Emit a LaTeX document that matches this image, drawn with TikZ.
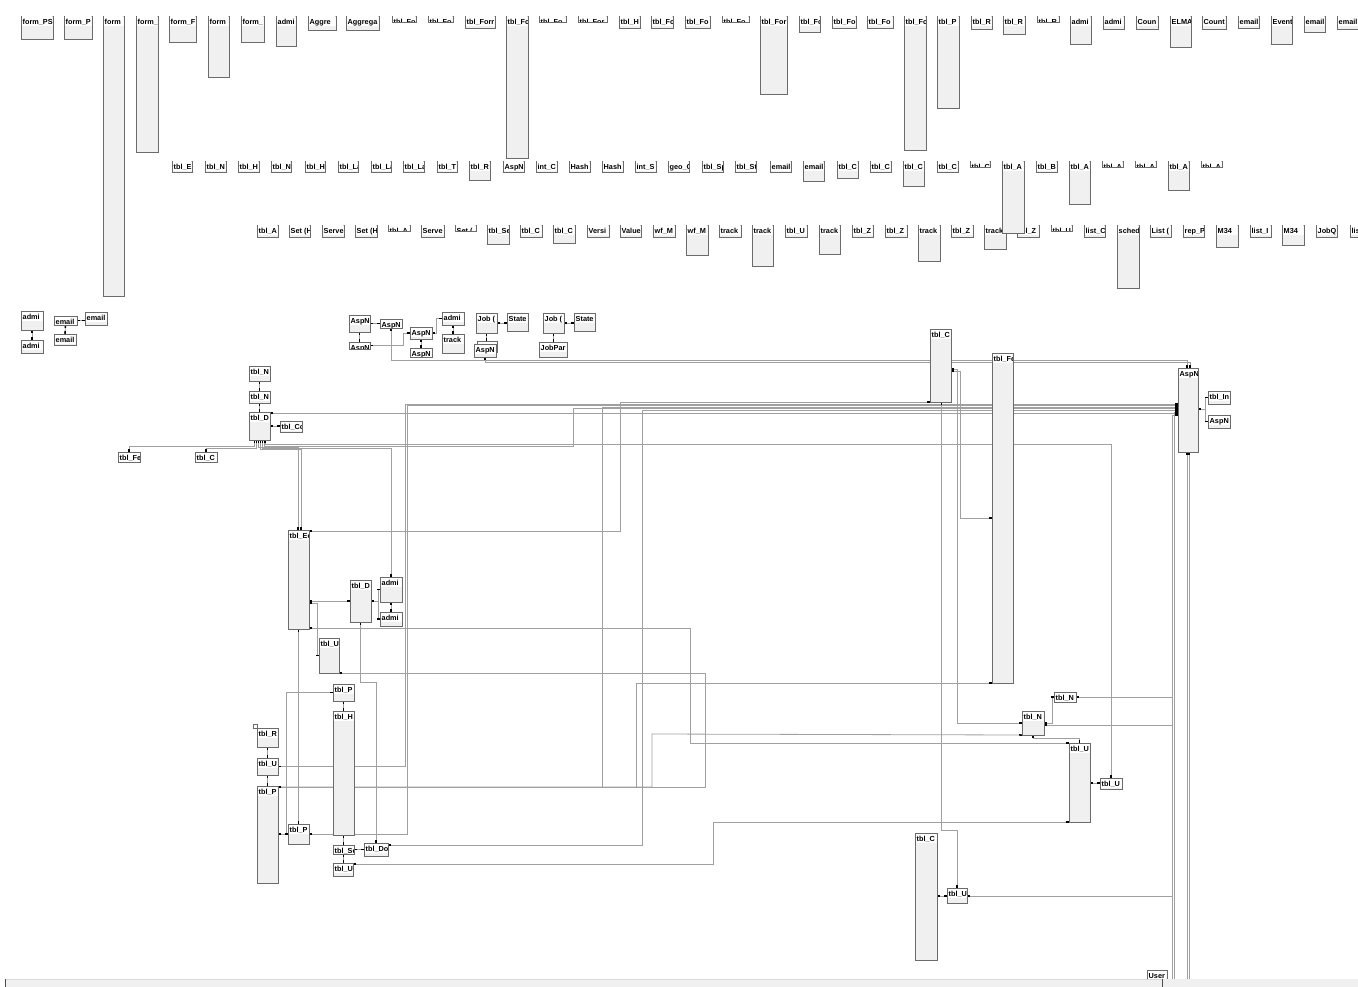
\documentclass[tikz,border=0pt]{standalone}
\usepackage{fontspec}
\setmainfont{Liberation Sans}
\usetikzlibrary{arrows.meta}
\definecolor{boxc}{HTML}{6B6B6B}
\definecolor{boxf}{HTML}{F0F0F0}
\definecolor{relc}{HTML}{A0A0A0}
\pgfdeclarelayer{bg}
\pgfsetlayers{bg,main}
\tikzset{
  Tk/.tip={Rectangle[length=3pt,width=1.5pt,color=black]},
  tbox/.style={draw=boxc, fill=boxf, line width=0.9pt, inner sep=0pt, outer sep=0pt},
  lbl/.style={font=\fontsize{7.3}{8}\selectfont\bfseries, inner sep=0pt, text=black},
  rel/.style={draw=relc, line width=0.8pt, Tk-Tk},
  relS/.style={draw=relc, line width=0.8pt, Tk-},
  relE/.style={draw=relc, line width=0.8pt, -Tk},
}
\newcommand\tb[6]{%
  \node[tbox, minimum width={(#4)-(#2)}, minimum height={(#5)-(#3)}, anchor=north west] (#1) at (#2,#3) {};
  \begin{scope}
    \clip ([shift={(0.5,0.5)}]#1.north west) rectangle ([shift={(-0.5,-0.5)}]#1.south east);
    \fill[white] ([shift={(0.5,0.5)}]#1.north west) rectangle ([shift={(-0.5,10)}]#1.north east);
    \node[lbl, anchor=base west] at ([shift={(1.5,8.5)}]#1.north west) {#6};
  \end{scope}}
\begin{document}
\begin{tikzpicture}[x=1pt,y=-1pt]
\useasboundingbox (0,0) rectangle (1358,987);
% ---------------- row 1
\tb{a1}{21}{16}{53}{39}{form\_PS}
\tb{a2}{64}{16}{92}{39}{form\_P}
\tb{a3}{103}{16}{124}{296}{form}
\tb{a4}{136}{16}{158}{152}{form\_}
\tb{a5}{169}{16}{196}{42}{form\_F}
\tb{a6}{208}{16}{229}{77}{form}
\tb{a7}{241}{16}{264}{42}{form\_}
\tb{a8}{276}{16}{296}{46}{admi}
\tb{a9}{308}{16}{336}{30}{Aggre}
\tb{a10}{346}{16}{379}{30}{Aggrega}
\tb{a11}{392}{16}{416}{22}{tbl\_Fo}
\tb{a12}{428}{16}{453}{22}{tbl\_Fo}
\tb{a13}{465}{16}{495}{28}{tbl\_Forr}
\tb{a14}{506}{16}{528}{158}{tbl\_Fc}
\tb{a15}{539}{16}{566}{22}{tbl\_Fo}
\tb{a16}{578}{16}{607}{22}{tbl\_For}
\tb{a17}{619}{16}{640}{28}{tbl\_H}
\tb{a18}{651}{16}{673}{28}{tbl\_Fc}
\tb{a19}{685}{16}{710}{28}{tbl\_Fo}
\tb{a20}{722}{16}{749}{22}{tbl\_Fo}
\tb{a21}{760}{16}{787}{94}{tbl\_For}
\tb{a22}{799}{16}{820}{32}{tbl\_Fc}
\tb{a23}{832}{16}{856}{28}{tbl\_Fo}
\tb{a24}{867}{16}{893}{28}{tbl\_Fo}
\tb{a25}{904}{16}{926}{150}{tbl\_Fc}
\tb{a26}{937}{16}{959}{108}{tbl\_P}
\tb{a27}{971}{16}{992}{29}{tbl\_R}
\tb{a28}{1003}{16}{1025}{34}{tbl\_R}
\tb{a29}{1037}{16}{1059}{22}{tbl\_R}
\tb{a30}{1070}{16}{1091}{44}{admi}
\tb{a31}{1103}{16}{1124}{29}{admi}
\tb{a32}{1136}{16}{1158}{29}{Coun}
\tb{a33}{1170}{16}{1191}{47}{ELMA}
\tb{a34}{1202}{16}{1226}{29}{Count}
\tb{a35}{1238}{16}{1259}{28}{email}
\tb{a36}{1271}{16}{1292}{44}{Event}
\tb{a37}{1304}{16}{1325}{32}{email}
\tb{a38}{1337}{16}{1362}{29}{email}
% ---------------- row 3
\tb{c1}{257}{225}{278}{237}{tbl\_A}
\tb{c2}{289}{225}{310}{237}{Set (H}
\tb{c3}{322}{225}{344}{237}{Serve}
\tb{c4}{355}{225}{377}{237}{Set (H}
\tb{c5}{388}{225}{410}{231}{tbl\_A}
\tb{c6}{421}{225}{444}{237}{Serve}
\tb{c7}{455}{225}{476}{231}{Set (}
\tb{c8}{487}{225}{509}{244}{tbl\_Se}
\tb{c9}{520}{225}{542}{237}{tbl\_C}
\tb{c10}{553}{225}{575}{243}{tbl\_C}
\tb{c11}{587}{225}{609}{237}{Versi}
\tb{c12}{620}{225}{641}{237}{Value}
\tb{c13}{653}{225}{675}{237}{wf\_M}
\tb{c14}{686}{225}{708}{255}{wf\_M}
\tb{c15}{719}{225}{741}{237}{track}
\tb{c16}{752}{225}{773}{266}{track}
\tb{c17}{785}{225}{807}{237}{tbl\_U}
\tb{c18}{819}{225}{840}{254}{track}
\tb{c19}{852}{225}{873}{237}{tbl\_Z}
\tb{c20}{885}{225}{907}{237}{tbl\_Z}
\tb{c21}{918}{225}{940}{261}{track}
\tb{c22}{951}{225}{973}{237}{tbl\_Z}
\tb{c23}{984}{225}{1006}{249}{track}
\tb{c24}{1017}{225}{1039}{237}{tbl\_Z}
\tb{c25}{1051}{225}{1072}{231}{tbl\_U}
\tb{c26}{1084}{225}{1105}{237}{list\_C}
\tb{c27}{1117}{225}{1139}{288}{sched}
\tb{c28}{1150}{225}{1171}{237}{List (}
\tb{c29}{1183}{225}{1204}{237}{rep\_P}
\tb{c30}{1216}{225}{1238}{247}{M34}
\tb{c31}{1250}{225}{1271}{237}{list\_I}
\tb{c32}{1282}{225}{1304}{245}{M34}
\tb{c33}{1316}{225}{1337}{237}{JobQ}
\tb{c34}{1350}{225}{1372}{237}{lis}
% ---------------- row 2
\tb{b1}{172}{161}{192}{172}{tbl\_Er}
\tb{b2}{205}{161}{226}{172}{tbl\_N}
\tb{b3}{238}{161}{259}{172}{tbl\_H}
\tb{b4}{271}{161}{291}{172}{tbl\_N}
\tb{b5}{305}{161}{325}{172}{tbl\_H}
\tb{b6}{338}{161}{358}{172}{tbl\_La}
\tb{b7}{371}{161}{391}{172}{tbl\_La}
\tb{b8}{403}{161}{424}{172}{tbl\_La}
\tb{b9}{437}{161}{457}{172}{tbl\_T}
\tb{b10}{469}{161}{490}{180}{tbl\_R}
\tb{b11}{503}{161}{524}{172}{AspN}
\tb{b12}{536}{161}{557}{172}{int\_C}
\tb{b13}{569}{161}{590}{172}{Hash}
\tb{b14}{602}{161}{623}{172}{Hash}
\tb{b15}{635}{161}{656}{172}{int\_S}
\tb{b16}{668}{161}{689}{172}{geo\_C}
\tb{b17}{702}{161}{723}{172}{tbl\_Sp}
\tb{b18}{735}{161}{756}{172}{tbl\_St}
\tb{b19}{770}{161}{791}{172}{email}
\tb{b20}{803}{161}{824}{181}{email}
\tb{b21}{837}{161}{858}{178}{tbl\_C}
\tb{b22}{870}{161}{891}{172}{tbl\_C}
\tb{b23}{903}{161}{924}{186}{tbl\_C}
\tb{b24}{937}{161}{958}{172}{tbl\_C}
\tb{b25}{970}{161}{990}{167}{tbl\_C}
\tb{b26}{1002}{161}{1024}{233}{tbl\_A}
\tb{b27}{1036}{161}{1057}{172}{tbl\_B}
\tb{b28}{1069}{161}{1090}{204}{tbl\_A}
\tb{b29}{1102}{161}{1123}{167}{tbl\_A}
\tb{b30}{1135}{161}{1156}{167}{tbl\_A}
\tb{b31}{1168}{161}{1189}{190}{tbl\_A}
\tb{b32}{1201}{161}{1222}{167}{tbl\_A}
% ---------------- lower left clusters
\tb{adA}{21}{311}{43}{330}{admi}
\tb{adB}{21}{340}{43}{353}{admi}
\tb{emA}{54}{316}{77}{325}{email}
\tb{emB}{85}{312}{107}{325}{email}
\tb{emC}{54}{334}{76}{345}{email}
\tb{asA}{349}{315}{370}{332}{AspN}
\tb{asB}{380}{319}{402}{328}{AspN}
\tb{asC}{349}{342}{370}{349}{AspN}
\tb{asD}{410}{327}{432}{339}{AspN}
\tb{asE}{410}{348}{432}{357}{AspN}
\tb{adJ}{442}{312}{464}{325}{admi}
\tb{trJ}{442}{334}{464}{353}{track}
\tb{jbA}{476}{313}{497}{333}{Job (}
\tb{stA}{507}{313}{528}{331}{State}
\tb{asF2}{477}{341}{497}{352}{}
\tb{asF}{474}{344}{496}{357}{AspN}
\tb{jbB}{543}{313}{564}{333}{Job (}
\tb{stB}{574}{313}{595}{331}{State}
\tb{jp}{539}{342}{567}{357}{JobPar}
\tb{nA}{249}{366}{270}{381}{tbl\_N}
\tb{nB}{249}{391}{270}{403}{tbl\_N}
\tb{tD}{249}{412}{270}{440}{tbl\_D}
\tb{tCo}{280}{421}{302}{432}{tbl\_Co}
\tb{fe1}{118}{452}{140}{462}{tbl\_Fe}
\tb{cc1}{195}{452}{217}{462}{tbl\_C}
\tb{tE}{288}{530}{309}{629}{tbl\_Ec}
\tb{tD2}{350}{580}{371}{622}{tbl\_D}
\tb{adD}{380}{577}{402}{602}{admi}
\tb{adE}{380}{612}{402}{626}{admi}
\tb{uA}{319}{638}{339}{673}{tbl\_U}
\tb{pS}{333}{684}{354}{701}{tbl\_P}
\tb{tH}{333}{711}{354}{835}{tbl\_H}
\tb{tR}{257}{728}{278}{747}{tbl\_R}
\tb{uL}{257}{758}{278}{775}{tbl\_U}
\tb{pT}{257}{786}{278}{883}{tbl\_P}
\tb{p2}{288}{824}{309}{844}{tbl\_P}
\tb{sc}{333}{845}{354}{854}{tbl\_Sc}
\tb{tDo}{364}{843}{388}{856}{tbl\_Do}
\tb{u3}{333}{863}{353}{876}{tbl\_U}
\draw[draw=boxc, fill=white, line width=0.6pt] (253,724) rectangle (257,728);
% ---------------- lower right
\tb{tC}{930}{329}{951}{402}{tbl\_C}
\tb{fe2}{992}{353}{1013}{683}{tbl\_Fe}
\tb{aspBig}{1178}{368}{1198}{452}{AspN}
\tb{tIn}{1208}{391}{1230}{404}{tbl\_In}
\tb{asS}{1208}{415}{1230}{428}{AspN}
\tb{n2}{1054}{692}{1076}{702}{tbl\_N}
\tb{nR}{1022}{711}{1044}{735}{tbl\_N}
\tb{uB}{1069}{743}{1090}{822}{tbl\_U}
\tb{uS}{1100}{778}{1122}{789}{tbl\_U}
\tb{c2b}{915}{833}{937}{960}{tbl\_C}
\tb{u4}{947}{888}{967}{903}{tbl\_U}
\tb{usr}{1147}{970}{1167}{990}{User}
% ---------------- connectors
\begin{pgfonlayer}{bg}
\draw[rel] (adA.south) -- (adB.north);
\draw[rel] (emA.east) -- (emA.east -| emB.west);
\draw[rel] (emA.south) -- (emC.north);
\draw[rel] (asA.east) -- (asA.east -| asB.west);
\draw[rel] (asA.south) -- (asC.north);
\draw[rel] (asC.east) -- (403,345.5) |- (asD.west);
\draw[rel] (asD.east) -- (436,333) |- (adJ.west);
\draw[rel] (adJ.south) -- (trJ.north);
\draw[rel] (asD.south) -- (asE.north);
\draw[rel] (asB.south) |- (1187,360) -- ([xshift=-1pt]aspBig.north);
\draw[rel] (asF.south) |- (1190,362) -- ([xshift=2pt]aspBig.north);
\draw[rel] (jbA.east) -- (jbA.east -| stA.west);
\draw[rel] (jbA.south) -- (jbA.south |- asF2.north);
\draw[rel] (jbB.east) -- (jbB.east -| stB.west);
\draw[rel] (jbB.south) -- (jbB.south |- jp.north);
\draw[rel] (nA.south) -- (nB.north);
\draw[rel] (nB.south) -- (tD.north);
\draw[rel] (tD.east) -- (tD.east -| tCo.west);
\draw[rel] ([xshift=-5pt]tD.south) |- (129,446) -- (fe1.north);
\draw[rel] ([xshift=-3pt]tD.south) |- (206,448) -- (cc1.north);
\draw[rel] ([xshift=-1pt]tD.south) |- (298,447) -- (tE.north -| 298,0);
\draw[rel] ([xshift=1pt]tD.south) |- (301,449) -- (tE.north -| 301,0);
\draw[rel] ([xshift=3pt]tD.south) |- (391,448) -- (adD.north);
\draw[rel] ([xshift=5pt]tD.south) |- (573,446) |- (aspBig.west |- 0,408.5);
\draw[rel] ([xshift=6pt]tD.south) |- (1111,444) -- (uS.north);
\draw[rel] (tD.east |- 0,413) -- (aspBig.west |- 0,413);
\draw[rel] (tE.east |- 0,531) -- (620,531) |- (tC.south west);
\draw[rel] (tE.east |- 0,628) -| (690,743) -- (uB.north west);
\draw[rel] (tD2.west) -- (tD2.west -| tE.east);
\draw[rel] (tE.east |- 0,603) -- (317,603) |- (uA.west);
\draw[rel] (tD2.east) -- (378,601) |- (adD.west);
\draw[relE] (378,601) |- (adE.west);
\draw[rel] (adD.south) -- (adE.north);
\draw[rel] (tD2.south) -- (360.5,682) -| (tDo.north);
\draw[rel] (pT.east |- 0,787) -| (705,673) -- (uA.south east);
\draw[rel] (pT.east |- 0,787) -| (636,683) -- (fe2.south west);
\draw[rel] (pT.east |- 0,787) -| (652,734) -- (nR.south west);
\draw[rel] (pT.east |- 0,787) -| (602,407) -- (aspBig.west |- 0,407);
\draw[rel] (uL.east) -| (405,404) -- (aspBig.west |- 0,404);
\draw[rel] (p2.east) -| (407,405.5) -- (aspBig.west |- 0,405.5);
\draw[rel] (tDo.east |- 0,845) -| (642,410) -- (aspBig.west |- 0,410);
\draw[rel] (u3.east |- 0,864) -| (713,822) -- (uB.south west);
\draw[rel] (pS.west) -| (286,834) -- (p2.west |- 0,834);
\draw[rel] (pT.east |- 0,834) -- (p2.west |- 0,834);
\draw[rel] (pS.south) -- (pS.south |- tH.north);
\draw[rel] (tH.south) -- (tH.south |- sc.north);
\draw[rel] (sc.east) -- (sc.east -| tDo.west);
\draw[rel] (sc.south) -- (sc.south |- u3.north);
\draw[rel] (tE.south) -- (p2.north);
\draw[rel] (tR.south) -- (uL.north);
\draw[rel] (uL.south) -- (pT.north);
\draw[rel] (tC.east |- 0,369) -| (957,723) -- (nR.west |- 0,723);
\draw[rel] (tC.east |- 0,371) -| (960,518) -- (fe2.west |- 0,518);
\draw[rel] ([xshift=1pt]tC.south) -- (941.5,830) -| (u4.north);
\draw[rel] (c2b.east |- 0,896) -- (u4.west |- 0,896);
\draw[relS] (u4.east |- 0,896) -- (1172,896);
\draw[relS] (aspBig.west |- 0,415) -| (1172,987);
\draw[relS] (aspBig.west |- 0,412) -| (1174.5,987);
\draw[rel] (nR.east |- 0,723) -- (1052,723) |- (n2.west);
\draw[relS] (n2.east) -- (1172,697);
\draw[relS] (nR.east |- 0,725) -- (1172,725);
\draw[rel] (nR.south) |- (1079.5,738) -- (uB.north);
\draw[rel] (uB.east |- 0,783) -- (uS.west |- 0,783);
\draw[rel] (aspBig.east |- 0,409) -- (1205,409) |- (tIn.west);
\draw[relE] (1205,409) |- (asS.west);
\draw[relS] ([xshift=-1pt]aspBig.south) -- (1187,987);
\draw[relS] ([xshift=1pt]aspBig.south) -- (1189,987);
\end{pgfonlayer}
% ---------------- bottom scroll bar
\fill[boxf] (5,979) rectangle (1162,987);
\draw[black!15] (5,979) -- (1162,979);
\fill[black!6] (1162,979) rectangle (1358,987);
\draw[black!70, line width=1pt] (5,979) -- (5,987);
\draw[black!70, line width=1pt] (1162,979) -- (1162,987);
\end{tikzpicture}
\end{document}
